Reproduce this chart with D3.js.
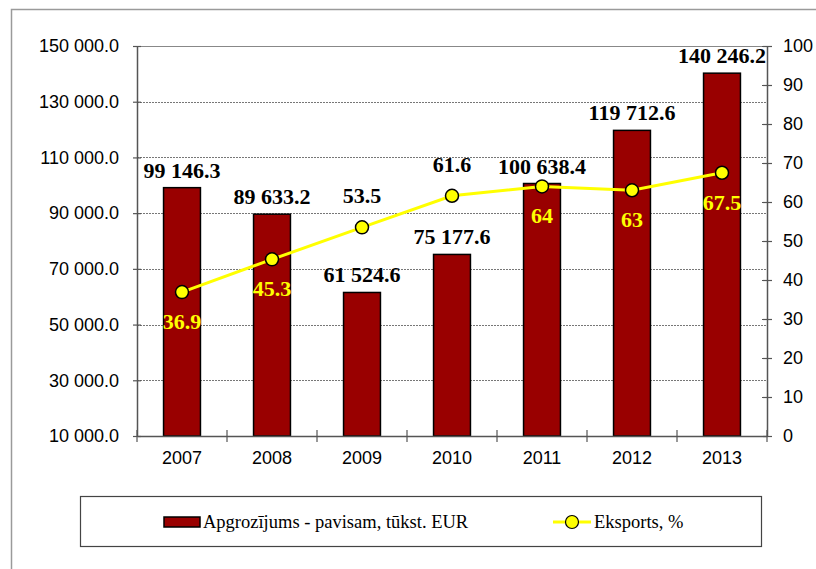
<!DOCTYPE html>
<html>
<head>
<meta charset="utf-8">
<script src="https://cdn.jsdelivr.net/npm/d3@7"></script>
<style>
  body { margin: 0; background: #fff; }
  svg { display: block; }
  .axis-text { font-family: "Liberation Sans", Arial, sans-serif; font-size: 18px; fill: #000; }
  .bar-label { font-family: "Liberation Serif", "Times New Roman", serif; font-size: 22px; font-weight: bold; fill: #000; }
  .exp-label { font-family: "Liberation Serif", "Times New Roman", serif; font-size: 22px; font-weight: bold; }
  .legend-text { font-family: "Liberation Serif", "Times New Roman", serif; font-size: 18.5px; fill: #000; }
</style>
</head>
<body>
<svg id="chart" width="816" height="569"></svg>
<script>
// data
var years = ['2007', '2008', '2009', '2010', '2011', '2012', '2013'];
var turnover = [99146.3, 89633.2, 61524.6, 75177.6, 100638.4, 119712.6, 140246.2];
var exportShare = [36.9, 45.3, 53.5, 61.6, 64, 63, 67.5];
var exportLabels = ['36.9', '45.3', '53.5', '61.6', '64', '63', '67.5'];
// label above (-1) or below (+1) the point
var exportLabelSide = [1, 1, -1, -1, 1, 1, 1];
var leftTicks = [10000, 30000, 50000, 70000, 90000, 110000, 130000, 150000];
var rightTicks = [0, 10, 20, 30, 40, 50, 60, 70, 80, 90, 100];
var legendNames = ['Apgrozījums - pavisam, tūkst. EUR', 'Eksports, %'];

var plot = { left: 137, right: 767, top: 46, bottom: 436 };

var svg = d3.select('#chart');

// space-separated thousands with one decimal
function fmt(v) {
  var s = v.toFixed(1).split('.');
  return s[0].replace(/\B(?=(\d{3})+(?!\d))/g, ' ') + '.' + s[1];
}

var x = d3.scaleBand()
  .domain(years)
  .range([plot.left, plot.right])
  .paddingInner(0.59)
  .paddingOuter(0.295);

var yLeft = d3.scaleLinear().domain([10000, 150000]).range([plot.bottom, plot.top]);
var yRight = d3.scaleLinear().domain([0, 100]).range([plot.bottom, plot.top]);

// outer chart frame (only left and top edges are in view)
svg.append('path')
  .attr('d', 'M11.5,569 V9.5 H816')
  .attr('fill', 'none')
  .attr('stroke', '#9a9a9a')
  .attr('stroke-width', 1.5);

// gridlines
svg.append('g').selectAll('line')
  .data(leftTicks.filter(function(t) { return t > 10000 && t < 150000; }))
  .join('line')
  .attr('x1', plot.left).attr('x2', plot.right)
  .attr('y1', function(d) { return Math.round(yLeft(d)) + 0.5; })
  .attr('y2', function(d) { return Math.round(yLeft(d)) + 0.5; })
  .attr('stroke', '#777')
  .attr('stroke-width', 1)
  .attr('stroke-dasharray', '2,1');

svg.append('line')
  .attr('x1', plot.left).attr('x2', plot.right)
  .attr('y1', plot.top + 0.5).attr('y2', plot.top + 0.5)
  .attr('stroke', '#888').attr('stroke-width', 1.2);

// bars
svg.append('g').selectAll('rect')
  .data(turnover)
  .join('rect')
  .attr('x', function(d, i) { return x(years[i]); })
  .attr('y', function(d) { return yLeft(d); })
  .attr('width', x.bandwidth())
  .attr('height', function(d) { return plot.bottom - yLeft(d); })
  .attr('fill', '#990000')
  .attr('stroke', '#000')
  .attr('stroke-width', 1.5);

// left axis
var leftAxis = d3.axisLeft(yLeft).tickValues(leftTicks).tickSize(0).tickPadding(18).tickFormat(fmt);
var gl = svg.append('g').attr('transform', 'translate(' + plot.left + ',0)').call(leftAxis);
gl.select('.domain').attr('stroke', '#555').attr('stroke-width', 1.5);
gl.selectAll('.tick text').attr('class', 'axis-text');
gl.selectAll('.tick').append('line').attr('x1', -4).attr('x2', 4).attr('stroke', '#555').attr('stroke-width', 1.2);

// right axis
var rightAxis = d3.axisRight(yRight).tickValues(rightTicks).tickSize(0).tickPadding(16);
var gr = svg.append('g').attr('transform', 'translate(' + plot.right + ',0)').call(rightAxis);
gr.select('.domain').attr('stroke', '#555').attr('stroke-width', 1.5);
gr.selectAll('.tick text').attr('class', 'axis-text');
gr.selectAll('.tick').append('line').attr('x1', -5).attr('x2', 5).attr('stroke', '#555').attr('stroke-width', 1.2);

// bottom axis: labels centred, ticks on category boundaries
var bottomAxis = d3.axisBottom(x).tickSize(0).tickPadding(15);
var gb = svg.append('g').attr('transform', 'translate(0,' + plot.bottom + ')').call(bottomAxis);
gb.select('.domain').attr('stroke', '#555').attr('stroke-width', 1.5);
gb.selectAll('.tick text').attr('class', 'axis-text');
var bounds = years.map(function(y) { return x(y) - x.step() * x.paddingInner() / 2; });
bounds.push(plot.right);
gb.selectAll('.bound').data(bounds).join('line')
  .attr('class', 'bound')
  .attr('x1', function(d) { return d; }).attr('x2', function(d) { return d; })
  .attr('y1', -6).attr('y2', 6)
  .attr('stroke', '#555').attr('stroke-width', 1.2);

// bar labels
svg.append('g').selectAll('text')
  .data(turnover)
  .join('text')
  .attr('class', 'bar-label')
  .attr('text-anchor', 'middle')
  .attr('x', function(d, i) { return x(years[i]) + x.bandwidth() / 2; })
  .attr('y', function(d) { return yLeft(d) - 10; })
  .text(fmt);

// export line
var line = d3.line()
  .x(function(d, i) { return x(years[i]) + x.bandwidth() / 2; })
  .y(function(d) { return yRight(d); });

svg.append('path')
  .datum(exportShare)
  .attr('d', line)
  .attr('fill', 'none')
  .attr('stroke', '#ffff00')
  .attr('stroke-width', 3);

svg.append('g').selectAll('circle')
  .data(exportShare)
  .join('circle')
  .attr('cx', function(d, i) { return x(years[i]) + x.bandwidth() / 2; })
  .attr('cy', function(d) { return yRight(d); })
  .attr('r', 6.5)
  .attr('fill', '#ffff00')
  .attr('stroke', '#000')
  .attr('stroke-width', 1.5);

// labels below the point sit on the bar (yellow), above it on white (black)
svg.append('g').selectAll('text')
  .data(exportShare)
  .join('text')
  .attr('class', 'exp-label')
  .attr('text-anchor', 'middle')
  .attr('fill', function(d, i) { return exportLabelSide[i] > 0 ? '#ffff00' : '#000'; })
  .attr('x', function(d, i) { return x(years[i]) + x.bandwidth() / 2; })
  .attr('y', function(d, i) { return yRight(d) + (exportLabelSide[i] > 0 ? 37 : -24); })
  .text(function(d, i) { return exportLabels[i]; });

// legend
var lg = svg.append('g');
lg.append('rect')
  .attr('x', 80.5).attr('y', 496.5).attr('width', 681).attr('height', 50)
  .attr('fill', '#fff').attr('stroke', '#444').attr('stroke-width', 1.2);
lg.append('rect')
  .attr('x', 164).attr('y', 517).attr('width', 36).attr('height', 10)
  .attr('fill', '#990000').attr('stroke', '#000').attr('stroke-width', 1.5);
lg.append('text').attr('class', 'legend-text')
  .attr('x', 203).attr('y', 528).text(legendNames[0]);
lg.append('line')
  .attr('x1', 553).attr('x2', 591).attr('y1', 522).attr('y2', 522)
  .attr('stroke', '#ffff00').attr('stroke-width', 3);
lg.append('circle')
  .attr('cx', 572).attr('cy', 522).attr('r', 6.5)
  .attr('fill', '#ffff00').attr('stroke', '#000').attr('stroke-width', 1.2);
lg.append('text').attr('class', 'legend-text')
  .attr('x', 594).attr('y', 528).text(legendNames[1]);
</script>
</body>
</html>
